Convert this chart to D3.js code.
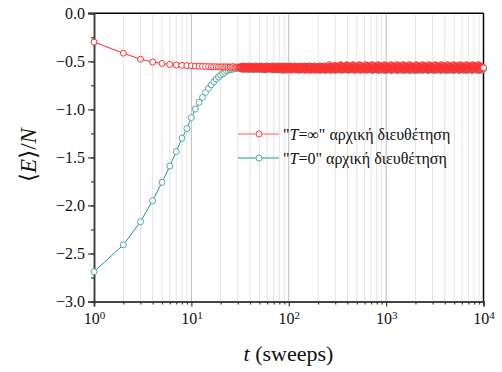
<!DOCTYPE html>
<html>
<head>
<meta charset="utf-8">
<script src="https://cdn.jsdelivr.net/npm/d3@7"></script>
<style>
  body { margin: 0; background: #fff; }
  svg text { font-family: "Liberation Serif", "DejaVu Serif", serif; }
</style>
</head>
<body>
<svg width="502" height="372"></svg>
<script>
// early sweeps, read point by point
var tEarly = d3.range(1, 31);
var hotEarly = [-0.30, -0.415, -0.478, -0.507, -0.522, -0.532, -0.538, -0.542, -0.545, -0.547,
  -0.549, -0.551, -0.552, -0.553, -0.555, -0.556, -0.557, -0.556, -0.558, -0.559,
  -0.557, -0.560, -0.556, -0.561, -0.558, -0.562, -0.555, -0.563, -0.559, -0.561];
var coldEarly = [-2.69, -2.41, -2.17, -1.95, -1.76, -1.59, -1.44, -1.30, -1.20, -1.085,
  -0.997, -0.927, -0.875, -0.823, -0.781, -0.744, -0.712, -0.684, -0.663, -0.642,
  -0.629, -0.615, -0.601, -0.592, -0.587, -0.583, -0.580, -0.577, -0.575, -0.573];

// plateau (t > 30): band of noisy values, one digit per sample, value = -0.535 - d*0.0065
var hotBand  = "45364725364534627453647354256374536274563847253647536284736452837465293746528374652937465283746592837465293847562938475629384756293847562938475602938475619283746501928374650192837465019283746501928374650918273645091827364509182736450918273645091827364509182736450918273645091827364590817263549081726354908172635490817263549081726354908172635490817263549081726354908172635490817263540918273645";
var coldBand = "56473658463758473657483658475637485736485738465736485738465748365748365749384756384756374857364857364758364758365748365748365748364758364758463748563748563748563748573648573648573648573648574638574638574638575938475869384756938475693847569384756938475693847569384756938475693847569384756938475693847569384756938475693847569384756938475693847569384756938475693847569384756938475693847";

var yTicks = [0, -0.5, -1.0, -1.5, -2.0, -2.5, -3.0];
var xTicks = [1, 10, 100, 1000, 10000];

function bandSeries(str) {
  var n = str.length;
  return str.split("").map(function(c, i) {
    return { t: 31 * Math.pow(10000 / 31, i / (n - 1)), v: -0.535 - (+c) * 0.0065, band: i < n - 1 };
  });
}
function earlySeries(vals) {
  return vals.map(function(v, i) { return { t: tEarly[i], v: v, band: false }; });
}
var hot = earlySeries(hotEarly).concat(bandSeries(hotBand));
var cold = earlySeries(coldEarly).concat(bandSeries(coldBand));

var svg = d3.select("svg");
var serif = "Liberation Serif, DejaVu Serif, serif";
var pLeft = 94, pRight = 483.5, pTop = 13.3, pBottom = 301.5;

var x = d3.scaleLog().domain([1, 10000]).range([pLeft, pRight]);
var y = d3.scaleLinear().domain([-3, 0]).range([pBottom, pTop]);

// vertical grid
var minor = [];
[1, 10, 100, 1000].forEach(function(d) { for (var k = 2; k <= 9; k++) minor.push(d * k); });
svg.append("g").selectAll("line").data(minor).enter().append("line")
    .attr("x1", d => x(d)).attr("x2", d => x(d))
    .attr("y1", pTop).attr("y2", pBottom)
    .attr("stroke", "#e4e4e4").attr("stroke-width", 1);
svg.append("g").selectAll("line").data([10, 100, 1000]).enter().append("line")
    .attr("x1", d => x(d)).attr("x2", d => x(d))
    .attr("y1", pTop).attr("y2", pBottom)
    .attr("stroke", "#bdbdbd").attr("stroke-width", 1);

// frame top / right
svg.append("line").attr("x1", pLeft - 6).attr("x2", pRight).attr("y1", pTop).attr("y2", pTop)
    .attr("stroke", "#000").attr("stroke-width", 1.5);
svg.append("line").attr("x1", pRight).attr("x2", pRight).attr("y1", pTop).attr("y2", pBottom)
    .attr("stroke", "#000").attr("stroke-width", 1.5);

// axes
var gy = svg.append("g").attr("transform", "translate(" + pLeft + ",0)");
gy.call(d3.axisLeft(y).tickValues(d3.range(-3, 0.01, 0.25)).tickSize(3).tickFormat(""));
gy.append("g").call(d3.axisLeft(y).tickValues(yTicks).tickSize(6).tickPadding(3)
    .tickFormat(d3.format(".1f")));
var gx = svg.append("g").attr("transform", "translate(0," + pBottom + ")");
gx.call(d3.axisBottom(x).tickValues(minor).tickSize(3).tickFormat(""));
var gxm = gx.append("g").call(d3.axisBottom(x).tickValues(xTicks).tickSize(5).tickPadding(6).tickFormat(""));
gxm.selectAll(".tick text").each(function(d) {
  var t = d3.select(this).attr("dy", "0.71em");
  t.append("tspan").text("10");
  t.append("tspan").attr("dy", "-0.45em").attr("font-size", "11px").text(Math.round(Math.log10(d)));
});
svg.selectAll(".domain").attr("stroke", "#3a3a3a").attr("stroke-width", 1.5);
svg.selectAll(".tick line").attr("stroke", "#3a3a3a").attr("stroke-width", 1.2);
svg.selectAll("g").attr("font-family", serif);
svg.selectAll(".tick text").attr("font-size", "16px").attr("fill", "#111")
    .style("font-family", serif);

// series
var line = d3.line().x(d => x(d.t)).y(d => y(d.v));
function drawSeries(data, lineColor, markColor) {
  svg.append("path").datum(data).attr("d", line)
      .attr("fill", "none").attr("stroke", lineColor).attr("stroke-width", 1);
  svg.append("g").selectAll("circle").data(data).enter().append("circle")
      .attr("cx", d => x(d.t)).attr("cy", d => y(d.v)).attr("r", 3)
      .attr("fill", d => d.band ? "none" : "#fff").attr("stroke", markColor).attr("stroke-width", 1);
}
drawSeries(cold, "#1f9a8e", "#52aaa6");
drawSeries(hot, "#ff2a2a", "#ff3030");

// legend
var legend = [
  { color: "#ff5c5c", mark: "#ff4747", label: "=\u221e\" αρχική διευθέτηση", y: 134 },
  { color: "#1f9a8e", mark: "#52aaa6", label: "=0\" αρχική διευθέτηση", y: 158 }
];
var lg = svg.append("g").selectAll("g").data(legend).enter().append("g");
lg.append("line").attr("x1", 238).attr("x2", 279).attr("y1", d => d.y).attr("y2", d => d.y)
    .attr("stroke", d => d.color).attr("stroke-width", 1.2);
lg.append("circle").attr("cx", 259).attr("cy", d => d.y).attr("r", 3)
    .attr("fill", "#fff").attr("stroke", d => d.mark);
var lt = lg.append("text").attr("x", 283).attr("y", d => d.y + 5.5)
    .style("font-family", serif).attr("font-size", "16px").attr("fill", "#111");
lt.append("tspan").text("\"");
lt.append("tspan").attr("font-style", "italic").text("T");
lt.append("tspan").text(d => d.label);

// axis titles
var xt = svg.append("text").attr("x", 288.5).attr("y", 361).attr("text-anchor", "middle")
    .style("font-family", serif).attr("font-size", "22px").attr("fill", "#111");
xt.append("tspan").attr("font-style", "italic").text("t");
xt.append("tspan").text(" (sweeps)");

var yt = svg.append("text").attr("transform", "translate(36,155) rotate(-90)")
    .attr("text-anchor", "middle").style("font-family", serif).attr("font-size", "23px").attr("fill", "#111");
yt.append("tspan").text("\u27e8");
yt.append("tspan").attr("font-style", "italic").text("E");
yt.append("tspan").text("\u27e9/");
yt.append("tspan").attr("font-style", "italic").text("N");
</script>
</body>
</html>
